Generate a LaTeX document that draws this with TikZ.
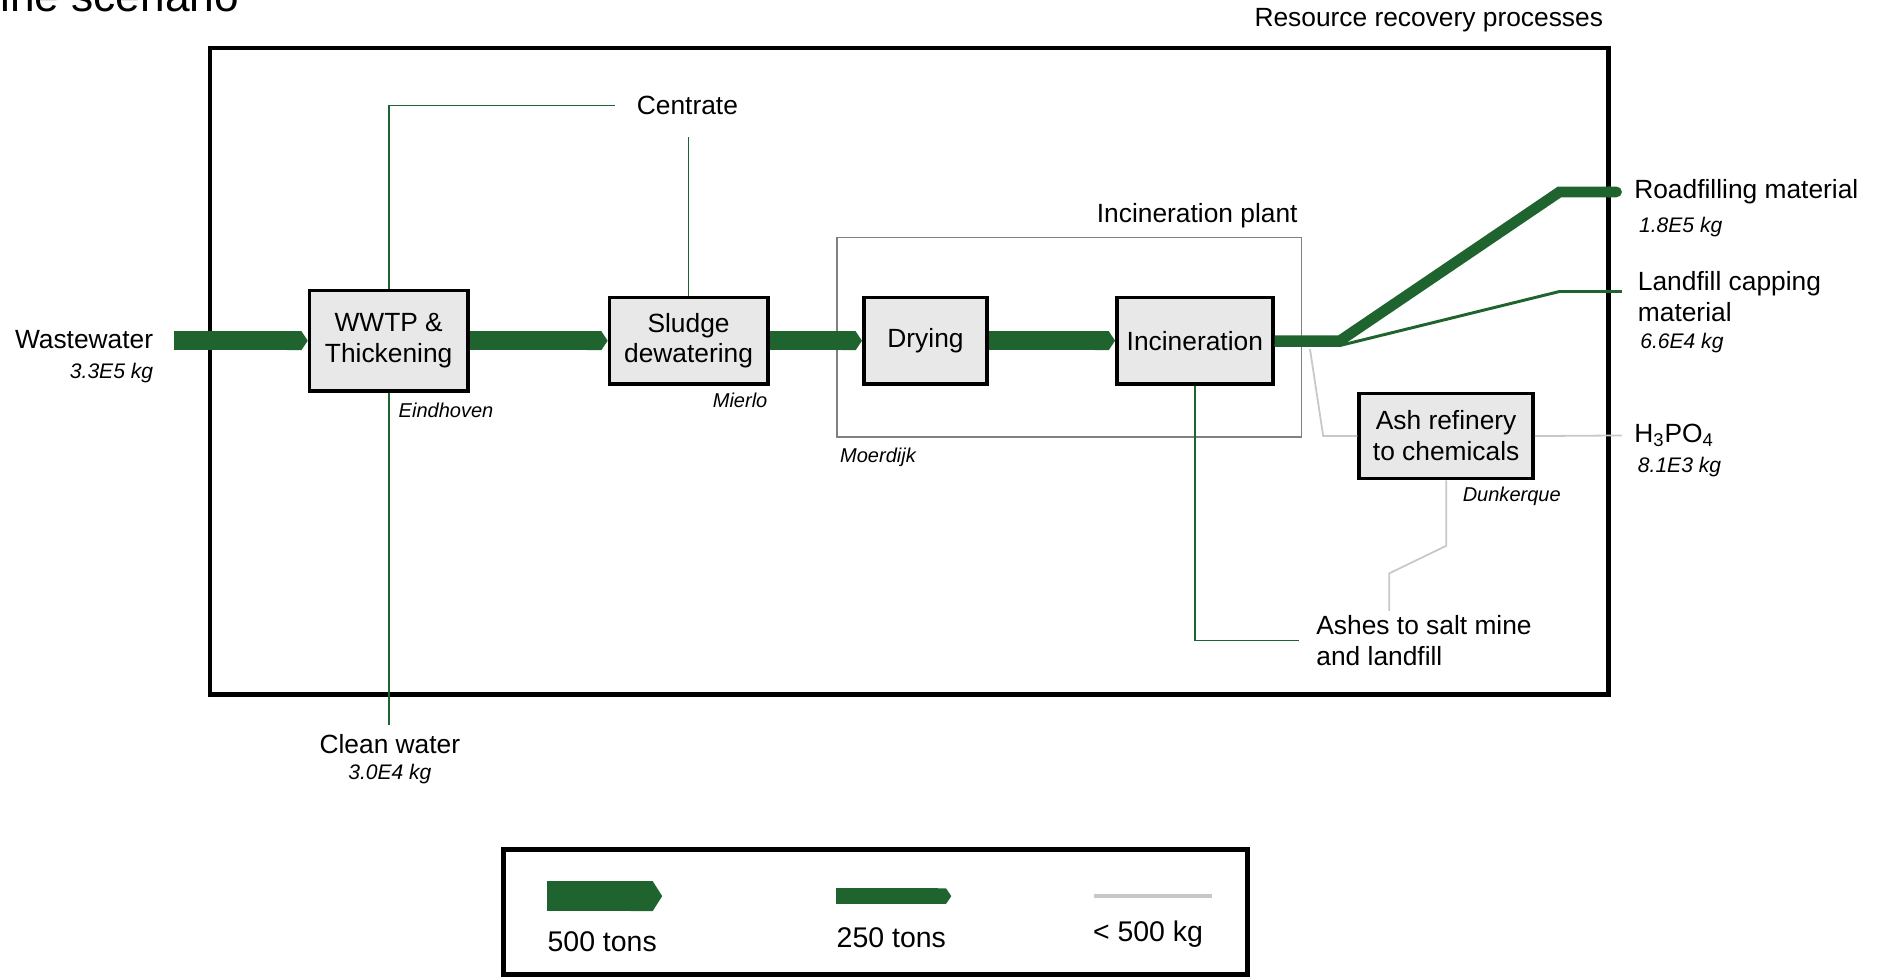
\documentclass[tikz,border=0pt]{standalone}
\usepackage{fontspec}
\setmainfont{Liberation Sans}
\usepackage{tikz}
\usetikzlibrary{arrows.meta}

\definecolor{flowgreen}{RGB}{31,100,46}
\definecolor{boxgray}{RGB}{232,232,232}
\definecolor{plantgray}{RGB}{128,128,128}
\definecolor{tracegray}{RGB}{200,200,200}

\newcommand{\mainfs}{\fontsize{12.5}{14.7}\selectfont}
\newcommand{\kgfs}{\fontsize{10}{12}\selectfont\itshape}
\newcommand{\sitefs}{\fontsize{9.5}{11}\selectfont\itshape}
\newcommand{\legfs}{\fontsize{13.5}{16}\selectfont}

\begin{document}
\begin{tikzpicture}[x=0.02cm,y=-0.02cm,font=\mainfs,
                    line join=miter]

  \tikzstyle{procbox}=[draw,line width=1.7pt,fill=boxgray,align=center,inner sep=0pt]
  \tikzstyle{bigflow}=[draw=flowgreen,line width=9pt,-{Triangle Cap[length=3pt]}]
  \tikzstyle{roadflow}=[draw=flowgreen,line width=5.1pt,-{Round Cap}]
  \tikzstyle{thinflow}=[draw=flowgreen,line width=1.4pt]
  \tikzstyle{sideflow}=[draw=flowgreen,line width=0.85pt]
  \tikzstyle{traceflow}=[draw=tracegray,line width=0.85pt]
  \tikzstyle{kglabel}=[font=\kgfs,inner sep=0pt]
  \tikzstyle{sitelabel}=[font=\sitefs,inner sep=0pt]

  \useasboundingbox (0,0) rectangle (1568,814);

  % title, cut off at the top edge
  \node[anchor=base west,inner sep=0pt,font=\fontsize{21}{25}\selectfont] (title) at (0,10) {ine scenario};

  % system boundaries
  \draw[line width=2.3pt] (175,40) rectangle (1341,579);
  \node (rrlabel) at (1191,17) {Resource recovery processes};
  \node[draw=plantgray,line width=0.85pt,minimum width=7.74cm,minimum height=3.32cm] (plant) at (891.5,281) {};
  \node (plantlabel) at (998,180) {Incineration plant};

  % processes
  \node[procbox,minimum width=2.64cm,minimum height=1.68cm] (wwtp)   at (324,284)    {WWTP \&\\Thickening};
  \node[procbox,minimum width=2.64cm,minimum height=1.44cm] (sludge) at (574,284)    {Sludge\\dewatering};
  \node[procbox,minimum width=2.06cm,minimum height=1.44cm] (drying) at (771.5,284)  {Drying};
  \node[procbox,minimum width=2.6cm,minimum height=1.44cm]  (incin)  at (996,284)    {Incineration};
  \node[procbox,minimum width=2.9cm,minimum height=1.42cm]  (ashref) at (1205.5,363.5) {Ash refinery\\to chemicals};

  \node[sitelabel,anchor=west] (eindhoven) at (332,342)  {Eindhoven};
  \node[sitelabel,anchor=east] (mierlo)    at (640,334)  {Mierlo};
  \node[sitelabel,anchor=west] (moerdijk)  at (700,381)  {Moerdijk};
  \node[sitelabel,anchor=west] (dunkerque) at (1219,414) {Dunkerque};

  % inputs and outputs
  \node[anchor=east,inner sep=0pt] (wwlabel) at (128,283) {Wastewater};
  \node[kglabel,anchor=east]       (wwkg)    at (128,311) {3.3E5 kg};
  \node[inner sep=0.36cm]          (centrate) at (573,88) {Centrate};
  \node[inner sep=0.14cm]          (cleanwater) at (325,620) {Clean water};
  \node[kglabel]                   (cleankg) at (325,645) {3.0E4 kg};
  \node[anchor=west,inner xsep=0.2cm,inner ysep=0pt] (road) at (1352,160) {Roadfilling material};
  \node[kglabel,anchor=west] (roadkg) at (1366,189) {1.8E5 kg};
  \node[anchor=west,align=left,inner xsep=0.26cm,inner ysep=0pt] (capping) at (1352,247) {Landfill capping\\material};
  \node[kglabel,anchor=west] (cappingkg) at (1367,286) {6.6E4 kg};
  \node[anchor=west,inner xsep=0.2cm,inner ysep=0pt] (h3po4) at (1352,363) {H\textsubscript{3}PO\textsubscript{4}};
  \node[kglabel,anchor=west] (h3po4kg) at (1365,389) {8.1E3 kg};
  \node[anchor=west,align=left,inner xsep=0.28cm,inner ysep=2pt] (ashes) at (1083,534) {Ashes to salt mine\\and landfill};

  % main sludge line
  \coordinate (wwin) at (145,284);
  \draw[bigflow] (wwin) -- (wwtp.west);
  \draw[bigflow] (wwtp.east) -- (sludge.west);
  \draw[bigflow] (sludge.east) -- (drying.west);
  \draw[bigflow] (drying.east) -- (incin.west);

  % ashes out of the incinerator
  \coordinate (split)    at (1117,284);
  \coordinate (roadknee) at (1300,160);
  \coordinate (capsplit) at (1117,288);
  \coordinate (capknee)  at (1300,243);
  \draw[thinflow] (incin.east |- capsplit) -- (capsplit) -- (capknee) -- (capknee -| capping.west);
  \draw[roadflow] (incin.east) -- (split) -- (roadknee) -- (road.west);

  % side streams
  \draw[sideflow] (wwtp.north) |- (centrate.west);
  \draw[sideflow] (sludge.north) -- (sludge.north |- centrate.south);
  \draw[sideflow] (wwtp.south) -- (wwtp.south |- cleanwater.north);
  \draw[sideflow] (incin.south) |- (ashes.west);

  % small flows
  \coordinate (ashtap)  at (1092,291);
  \coordinate (ashknee) at (1103,363.5);
  \coordinate (ashbend) at (1205.5,455);
  \coordinate (ashdrop) at (1158,478);
  \draw[traceflow] (ashtap) -- (ashknee) -- (ashref.west);
  \draw[traceflow] (ashref.east) -- (h3po4.west);
  \draw[traceflow] (ashref.south) -- (ashbend) -- (ashdrop) -- (ashdrop |- ashes.north);

  % legend
  \draw[line width=2.3pt] (420,708) rectangle (1040,812);
  \coordinate (bigA)   at (456,747);
  \coordinate (bigB)   at (552,747);
  \coordinate (midA)   at (697,747);
  \coordinate (midB)   at (793,747);
  \coordinate (smallA) at (912,747);
  \coordinate (smallB) at (1010,747);
  \draw[draw=flowgreen,line width=14.2pt,-{Triangle Cap[length=4.5pt]}] (bigA) -- (bigB);
  \draw[draw=flowgreen,line width=7.4pt,-{Triangle Cap[length=2.5pt]}] (midA) -- (midB);
  \draw[draw=tracegray,line width=1.7pt] (smallA) -- (smallB);
  \node[font=\legfs] (big500)  at (502,785) {500 tons};
  \node[font=\legfs] (mid250)  at (743,782) {250 tons};
  \node[font=\legfs] (small500) at (957,779) {< 500 kg};
\end{tikzpicture}
\end{document}
